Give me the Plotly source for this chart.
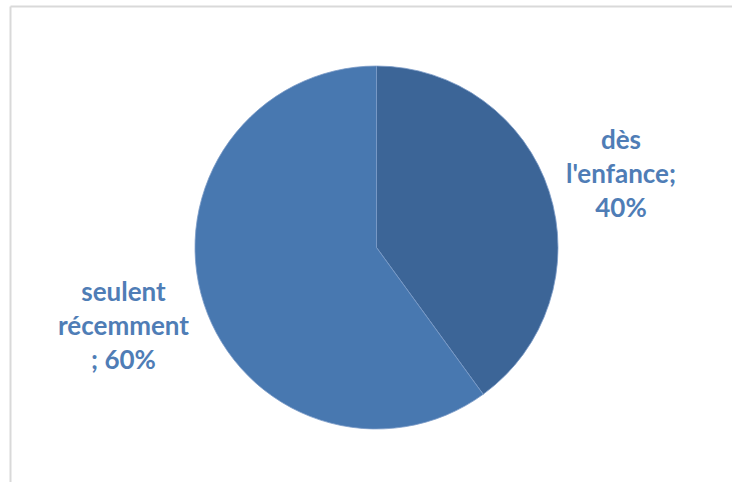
import plotly.graph_objects as go

# Share of respondents by when the practice started
categories = ["dès l'enfance", "seulent récemment"]
values = [40, 60]
label_lines = [["dès", "l'enfance;"], ["seulent", "récemment", ";"]]
slice_colors = ["#3C6597", "#4878B0"]
label_color = "#4F7DB6"

W, H = 732, 482

fig = go.Figure()
fig.add_trace(go.Pie(
    labels=categories,
    values=values,
    sort=False,
    direction="clockwise",
    rotation=0,
    marker=dict(colors=slice_colors, line=dict(color="#7C9CC8", width=0.8)),
    textinfo="none",
    hoverinfo="label+percent",
    showlegend=False,
    domain=dict(x=[195 / W, 558 / W], y=[1 - 429 / H, 1 - 66 / H]),
))

# Outside labels: category name followed by its percentage
total = sum(values)
pct = [f"{round(v * 100 / total)}%" for v in values]
texts = [
    "<br>".join(label_lines[0]) + "<br>" + pct[0],
    "<br>".join(label_lines[1][:2]) + "<br>" + label_lines[1][2] + " " + pct[1],
]
positions = [(621 / W, 1 - 173 / H), (123 / W, 1 - 325 / H)]
for t, (px, py) in zip(texts, positions):
    fig.add_annotation(
        x=px, y=py, xref="paper", yref="paper",
        text=f"<b>{t}</b>", showarrow=False,
        font=dict(family="Lato", size=26, color=label_color),
        align="center", xanchor="center", yanchor="middle",
    )

# Chart-area frame (top and left edges)
fig.add_shape(type="line", xref="paper", yref="paper",
              x0=10.5 / W, x1=1, y0=1 - 6.5 / H, y1=1 - 6.5 / H,
              line=dict(color="#D9D9D9", width=2))
fig.add_shape(type="line", xref="paper", yref="paper",
              x0=10.5 / W, x1=10.5 / W, y0=0, y1=1 - 6.5 / H,
              line=dict(color="#D9D9D9", width=2))

fig.update_layout(
    width=W, height=H,
    margin=dict(l=0, r=0, t=0, b=0),
    paper_bgcolor="white", plot_bgcolor="white",
)
fig.write_html("out.html")
